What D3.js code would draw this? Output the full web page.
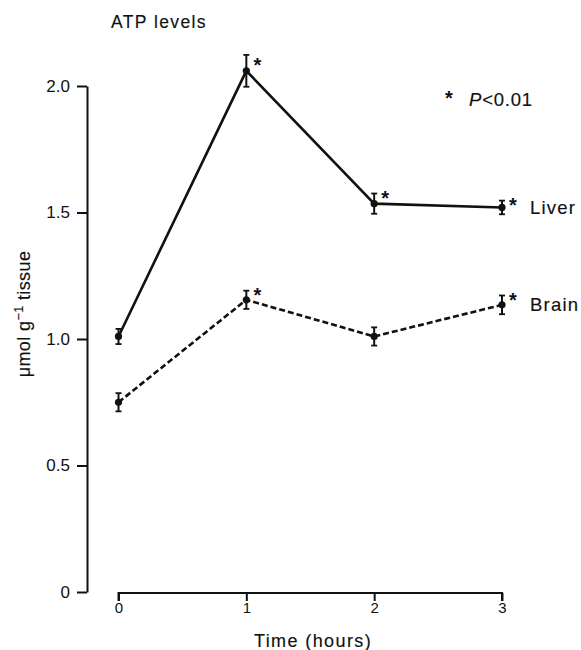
<!DOCTYPE html>
<html>
<head>
<meta charset="utf-8">
<script src="https://cdn.jsdelivr.net/npm/d3@7"></script>
<style>
  body { margin: 0; background: #fff; }
  text { font-family: "Liberation Sans", Arial, Helvetica, sans-serif; fill: #111; }
  .lbl { stroke: #111; stroke-width: 0.15px; }
</style>
</head>
<body>
<div id="chart"></div>
<script>
// data
var times = [0, 1, 2, 3];
var xTicks = [0, 1, 2, 3];
var yTicks = [0, 0.5, 1.0, 1.5, 2.0];

var liverMean = [1.01, 2.06, 1.535, 1.52];
var liverErr  = [0.03, 0.063, 0.04, 0.027];
var liverSig  = [false, true, true, true];

var brainMean = [0.75, 1.155, 1.01, 1.135];
var brainErr  = [0.036, 0.036, 0.036, 0.037];
var brainSig  = [false, true, false, true];

var seriesNames = ["Liver", "Brain"];

var width = 581, height = 650;

var svg = d3.select("#chart")
    .append("svg")
    .attr("width", width)
    .attr("height", height);

var x = d3.scaleLinear().domain([0, 3]).range([118.5, 502]);
var y = d3.scaleLinear().domain([0, 2]).range([592, 86]);

// Y axis
var yAxis = svg.append("g")
    .attr("transform", "translate(87,0)")
    .call(d3.axisLeft(y)
        .tickValues(yTicks)
        .tickSize(10)
        .tickSizeOuter(0)
        .tickPadding(7)
        .tickFormat(function(d) { return d === 0 ? "0" : d3.format(".1f")(d); }));
yAxis.selectAll("path, line").attr("stroke", "#111").attr("stroke-width", 2);
yAxis.selectAll("text").style("font-size", "17px").attr("fill", "#222");

// X axis (separate, starts at t=0)
var xAxis = svg.append("g")
    .attr("transform", "translate(0,593)")
    .call(d3.axisBottom(x)
        .tickValues(xTicks)
        .tickSize(8)
        .tickSizeOuter(0)
        .tickPadding(1)
        .tickFormat(d3.format("d")));
xAxis.selectAll("path, line").attr("stroke", "#111").attr("stroke-width", 2);
xAxis.select(".domain").attr("d", "M" + x(0) + ",8V0H" + x(3) + "V8");
xAxis.selectAll("text").style("font-size", "15px").attr("fill", "#222");

// titles
svg.append("text")
    .attr("class", "lbl")
    .attr("x", 111).attr("y", 28)
    .style("font-size", "17.5px")
    .style("letter-spacing", "1.4px")
    .text("ATP levels");

svg.append("text")
    .attr("class", "lbl")
    .attr("x", 313).attr("y", 647)
    .attr("text-anchor", "middle")
    .style("font-size", "18px")
    .style("letter-spacing", "1.4px")
    .text("Time (hours)");

var yl = svg.append("text")
    .attr("class", "lbl")
    .attr("transform", "translate(30,314) rotate(-90)")
    .attr("text-anchor", "middle")
    .style("font-size", "18px")
    .style("letter-spacing", "0.4px");
yl.append("tspan").text("\u03bcmol g");
yl.append("tspan").attr("dy", -7).style("font-size", "12.5px").text("\u22121");
yl.append("tspan").attr("dy", 7).text(" tissue");

// legend
svg.append("text")
    .attr("x", 449).attr("y", 93 + 0.575 * 20)
    .attr("text-anchor", "middle")
    .style("font-size", "20px").style("font-weight", "bold")
    .text("*");
var leg = svg.append("text")
    .attr("class", "lbl")
    .attr("x", 469).attr("y", 106)
    .style("font-size", "18.5px")
    .style("letter-spacing", "0.8px");
leg.append("tspan").style("font-style", "italic").text("P");
leg.append("tspan").text("<0.01");

function drawSeries(means, errs, sig, dash, name) {
    var pts = times.map(function(t, i) {
        return { t: t, v: means[i], e: errs[i], s: sig[i] };
    });

    var line = d3.line()
        .x(function(d) { return x(d.t); })
        .y(function(d) { return y(d.v); });

    svg.append("path")
        .datum(pts)
        .attr("d", line)
        .attr("fill", "none")
        .attr("stroke", "#111")
        .attr("stroke-width", 2.6)
        .attr("stroke-dasharray", dash);

    var g = svg.append("g");
    g.selectAll(".err")
        .data(pts).enter()
        .append("line")
        .attr("x1", function(d) { return x(d.t); })
        .attr("x2", function(d) { return x(d.t); })
        .attr("y1", function(d) { return y(d.v + d.e); })
        .attr("y2", function(d) { return y(d.v - d.e); })
        .attr("stroke", "#111").attr("stroke-width", 2);

    [1, -1].forEach(function(sgn) {
        g.selectAll(null)
            .data(pts).enter()
            .append("line")
            .attr("x1", function(d) { return x(d.t) - 3; })
            .attr("x2", function(d) { return x(d.t) + 3; })
            .attr("y1", function(d) { return y(d.v + sgn * d.e); })
            .attr("y2", function(d) { return y(d.v + sgn * d.e); })
            .attr("stroke", "#111").attr("stroke-width", 1.8);
    });

    g.selectAll("circle")
        .data(pts).enter()
        .append("circle")
        .attr("cx", function(d) { return x(d.t); })
        .attr("cy", function(d) { return y(d.v); })
        .attr("r", 3.6)
        .attr("fill", "#111");

    g.selectAll(".star")
        .data(pts.filter(function(d) { return d.s; })).enter()
        .append("text")
        .attr("x", function(d) { return x(d.t) + 11; })
        .attr("y", function(d) {
            var cy = Math.max(y(d.v + d.e), y(d.v) - 10);
            return cy + 0.575 * 20;
        })
        .attr("text-anchor", "middle")
        .style("font-size", "20px").style("font-weight", "bold")
        .text("*");

    var last = pts[pts.length - 1];
    svg.append("text")
        .attr("class", "lbl")
        .attr("x", x(last.t) + 28)
        .attr("y", y(last.v) + 6.5)
        .style("font-size", "18.5px")
        .style("letter-spacing", "1.2px")
        .text(name);
}

drawSeries(liverMean, liverErr, liverSig, null, seriesNames[0]);
drawSeries(brainMean, brainErr, brainSig, "6,3", seriesNames[1]);
</script>
</body>
</html>
